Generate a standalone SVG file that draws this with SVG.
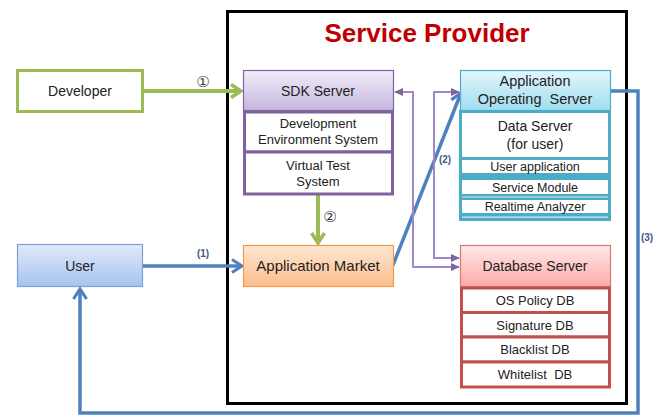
<svg xmlns="http://www.w3.org/2000/svg" width="669" height="415" viewBox="0 0 669 415">
  <style>
    .lbl { font-family: "Liberation Sans", Arial, sans-serif; fill: #222; text-anchor: middle; }
    .m { font-size: 14px; }
    .s { font-size: 13px; }
    .xs { font-size: 12.5px; }
    .num { font-family: "DejaVu Sans", sans-serif; font-size: 15px; fill: #3a3a3a; text-anchor: middle; }
    .par { font-family: "Liberation Sans", Arial, sans-serif; font-size: 10px; fill: #3d5a85; text-anchor: middle; font-weight: bold; }
    .sub-p { fill: #fff; stroke: #7F60A0; stroke-width: 3; }
    .sub-r { fill: #fff; stroke: #C0504D; stroke-width: 3; }
    .blue { fill: none; stroke: #4F81BD; stroke-width: 3.5; }
    .green { fill: none; stroke: #9BBB59; stroke-width: 4; }
    .purple { fill: none; stroke: #9F88C6; stroke-width: 2; }
  </style>
  <defs>
    <linearGradient id="gPurple" x1="0" y1="0" x2="0" y2="1">
      <stop offset="0" stop-color="#F1ECF8"/>
      <stop offset="1" stop-color="#C6B6DE"/>
    </linearGradient>
    <linearGradient id="gCyan" x1="0" y1="0" x2="0" y2="1">
      <stop offset="0" stop-color="#E3F6FC"/>
      <stop offset="1" stop-color="#A0DDF0"/>
    </linearGradient>
    <linearGradient id="gOrange" x1="0" y1="0" x2="0" y2="1">
      <stop offset="0" stop-color="#FEE6D2"/>
      <stop offset="1" stop-color="#FBBE8C"/>
    </linearGradient>
    <linearGradient id="gBlue" x1="0" y1="0" x2="0" y2="1">
      <stop offset="0" stop-color="#E0EAF9"/>
      <stop offset="1" stop-color="#A6C2EE"/>
    </linearGradient>
    <linearGradient id="gRed" x1="0" y1="0" x2="0" y2="1">
      <stop offset="0" stop-color="#FFE8E8"/>
      <stop offset="1" stop-color="#FFA9A9"/>
    </linearGradient>
    <marker id="chevBlue" viewBox="0 0 14 16" refX="12" refY="8" markerWidth="14" markerHeight="16" orient="auto" markerUnits="userSpaceOnUse">
      <path d="M2,1.5 L12,8 L2,14.5" fill="none" stroke="#4F81BD" stroke-width="3.2"/>
    </marker>
    <marker id="chevGreen" viewBox="0 0 14 16" refX="12" refY="8" markerWidth="14" markerHeight="16" orient="auto" markerUnits="userSpaceOnUse">
      <path d="M2,1.5 L12,8 L2,14.5" fill="none" stroke="#9BBB59" stroke-width="3.6"/>
    </marker>
    <marker id="triPurple" viewBox="0 0 10 10" refX="9" refY="5" markerWidth="9" markerHeight="9" orient="auto-start-reverse" markerUnits="userSpaceOnUse">
      <path d="M0,0.5 L10,5 L0,9.5 Z" fill="#8064A2"/>
    </marker>
  </defs>

  <rect width="669" height="415" fill="#fff"/>

  <!-- provider frame and title -->
  <g id="service-provider">
    <rect x="227.5" y="11.5" width="399" height="392" fill="none" stroke="#000" stroke-width="3"/>
    <text x="427" y="42" font-family="Liberation Sans, Arial, sans-serif" font-size="26" font-weight="bold" fill="#C00000" text-anchor="middle">Service Provider</text>
  </g>

  <!-- connectors -->
  <g id="connectors">
    <path class="green" d="M144,91 H241" marker-end="url(#chevGreen)"/>
    <path class="green" d="M318,195 V243" marker-end="url(#chevGreen)"/>
    <path class="blue" d="M143,266 H242" marker-end="url(#chevBlue)"/>
    <path class="blue" d="M393,265 L461,93" marker-end="url(#chevBlue)"/>
    <path class="blue" d="M611,91 H638 V413 H80 V289" marker-end="url(#chevBlue)"/>
    <path class="purple" d="M395,92 H413 V267 H459" marker-start="url(#triPurple)" marker-end="url(#triPurple)"/>
    <path class="purple" d="M459,92 H434 V258 H459" marker-start="url(#triPurple)" marker-end="url(#triPurple)"/>
    <text class="num" x="203" y="87">①</text>
    <text class="num" x="330" y="222">②</text>
    <text class="par" x="203" y="257">(1)</text>
    <text class="par" x="445" y="163">(2)</text>
    <text class="par" x="647" y="241">(3)</text>
  </g>

  <g id="developer">
    <rect x="17.5" y="70.5" width="125" height="41" fill="#fff" stroke="#9BBB59" stroke-width="3"/>
    <text class="lbl m" x="80" y="96">Developer</text>
  </g>

  <g id="user">
    <rect x="17.5" y="244.5" width="125" height="42" fill="url(#gBlue)" stroke="#7BA0D4" stroke-width="1.2"/>
    <text class="lbl m" x="80" y="271">User</text>
  </g>

  <g id="sdk-server">
    <rect x="243.5" y="70.5" width="150" height="40" fill="url(#gPurple)" stroke="#8064A2" stroke-width="1.2"/>
    <text class="lbl m" x="318" y="96">SDK Server</text>
    <rect class="sub-p" x="244.5" y="112" width="148" height="40"/>
    <text class="lbl s" x="318" y="128">Development</text>
    <text class="lbl s" x="318" y="144">Environment System</text>
    <rect class="sub-p" x="244.5" y="152" width="148" height="42"/>
    <text class="lbl s" x="318" y="170">Virtual Test</text>
    <text class="lbl s" x="318" y="186">System</text>
  </g>

  <g id="application-market">
    <rect x="243.5" y="245.5" width="150" height="41" fill="url(#gOrange)" stroke="#F79646" stroke-width="1.2"/>
    <text class="lbl" x="318" y="271" font-size="15">Application Market</text>
  </g>

  <g id="application-operating-server">
    <rect x="460.5" y="70.5" width="150" height="40" fill="url(#gCyan)" stroke="#4BACC6" stroke-width="1.2"/>
    <text class="lbl" x="535" y="86" font-size="14.5">Application</text>
    <text class="lbl" x="535" y="104" font-size="14.5" style="white-space:pre">Operating  Server</text>
    <rect x="459" y="110" width="152" height="111" fill="#4BACC6"/>
    <rect x="462" y="113" width="146" height="44" fill="#fff"/>
    <text class="lbl m" x="535" y="131">Data Server</text>
    <text class="lbl m" x="535" y="149">(for user)</text>
    <rect x="462" y="160" width="146" height="13" fill="#fff"/>
    <text class="lbl xs" x="535" y="171">User application</text>
    <rect x="462" y="180" width="146" height="14" fill="#fff"/>
    <text class="lbl xs" x="535" y="191.5">Service Module</text>
    <rect x="462" y="196.5" width="146" height="1" fill="#D8EEF4"/>
    <rect x="462" y="200" width="146" height="13" fill="#fff"/>
    <text class="lbl xs" x="535" y="211">Realtime Analyzer</text>
    <rect x="462" y="216.5" width="146" height="1.2" fill="#D8EEF4"/>
  </g>

  <g id="database-server">
    <rect x="460.5" y="245.5" width="150" height="41" fill="url(#gRed)" stroke="#D27A78" stroke-width="1.2"/>
    <text class="lbl m" x="535" y="271">Database Server</text>
    <rect class="sub-r" x="461.5" y="288" width="148" height="24.5"/>
    <text class="lbl s" x="535" y="305">OS Policy DB</text>
    <rect class="sub-r" x="461.5" y="312.5" width="148" height="24.5"/>
    <text class="lbl s" x="535" y="330">Signature DB</text>
    <rect class="sub-r" x="461.5" y="337" width="148" height="25"/>
    <text class="lbl s" x="535" y="354">Blacklist DB</text>
    <rect class="sub-r" x="461.5" y="362" width="148" height="25"/>
    <text class="lbl s" x="535" y="379" style="white-space:pre">Whitelist  DB</text>
  </g>
</svg>
